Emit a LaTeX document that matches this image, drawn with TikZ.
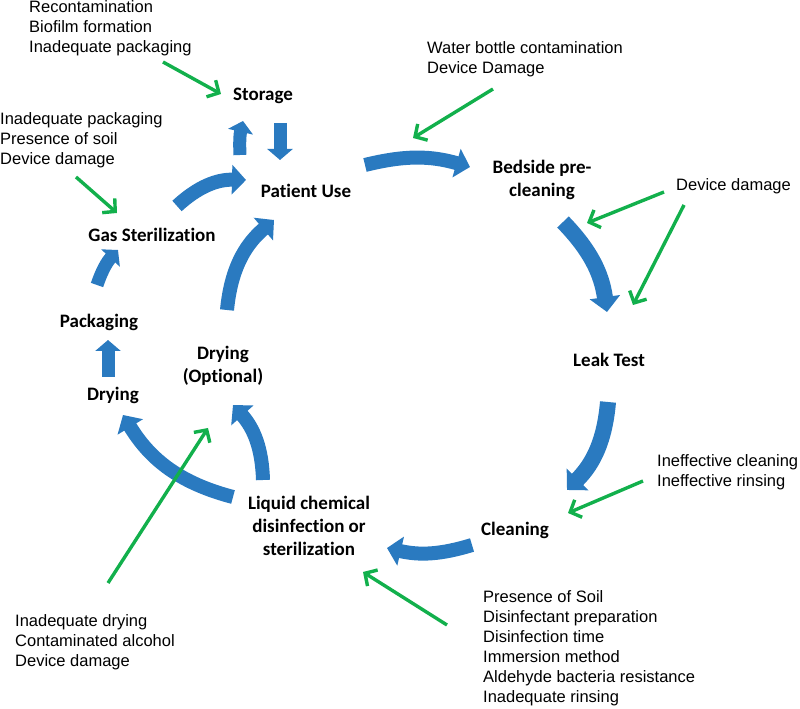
\documentclass[tikz,border=0pt]{standalone}
\usepackage{fontspec}
\setmainfont{Liberation Sans}
\newfontfamily\stagefamily[Ligatures=NoCommon]{Carlito}
\usetikzlibrary{arrows.meta}
\definecolor{flowblue}{RGB}{42,122,192}
\definecolor{riskgreen}{RGB}{18,176,76}
\begin{document}
\begin{tikzpicture}[x=1pt,y=1pt,
  stage/.style={font=\stagefamily\bfseries\fontsize{19}{23}\selectfont, align=center, inner sep=0pt},
  risk/.style={font=\fontsize{16.5}{20}\selectfont, align=left, anchor=west, inner sep=0pt},
  flow/.style={draw=flowblue, line width=14pt, -{Triangle[width=29pt,length=14pt]}},
  smallflow/.style={draw=flowblue, line width=13pt, -{Triangle[width=25pt,length=11pt]}},
  hazard/.style={draw=riskgreen, line width=3.4pt, -{Straight Barb[length=9pt,width=19pt]}}]
\useasboundingbox (0,0) rectangle (800,709);

% stages
\node[stage] (storage) at (263,613) {Storage};
\node[stage] (patient) at (306,518) {Patient Use};
\node[stage] (bedside) at (542,529.5) {Bedside pre-\\cleaning};
\node[stage] (leak) at (609,349) {Leak Test};
\node[stage] (cleaning) at (515,179) {Cleaning};
\node[stage] (liquid) at (309,183) {Liquid chemical\\disinfection or\\sterilization};
\node[stage] (dryopt) at (223,343) {Drying\\(Optional)};
\node[stage] (drying) at (113,314) {Drying};
\node[stage] (packaging) at (99,387) {Packaging};
\node[stage] (gas) at (152,474) {Gas Sterilization};

% risks
\node[risk] (r1) at (29,681) {Recontamination\\Biofilm formation\\Inadequate packaging};
\node[risk] (r2) at (0,569) {Inadequate packaging\\Presence of soil\\Device damage};
\node[risk] (r3) at (427,650) {Water bottle contamination\\Device Damage};
\node[risk] (r4) at (676,523) {Device damage};
\node[risk] (r5) at (657,237) {Ineffective cleaning\\Ineffective rinsing};
\node[risk] (r6) at (483,61) {Presence of Soil\\Disinfectant preparation\\Disinfection time\\Immersion method\\Aldehyde bacteria resistance\\Inadequate rinsing};
\node[risk] (r7) at (15,67) {Inadequate drying\\Contaminated alcohol\\Device damage};

% flow arrow endpoints
\coordinate (b1s) at (240,554); \coordinate (b1e) at (243,588);
\coordinate (b2s) at (280,586); \coordinate (b2e) at (280,549);
\coordinate (b3s) at (177,503); \coordinate (b3e) at (246,529);
\coordinate (b4s) at (365,544); \coordinate (b4e) at (470,542);
\coordinate (b5s) at (563,487); \coordinate (b5e) at (607,397);
\coordinate (b6s) at (608,307); \coordinate (b6e) at (567,219);
\coordinate (b7s) at (472,164); \coordinate (b7e) at (387,161);
\coordinate (b8s) at (233,212); \coordinate (b8e) at (123,294);
\coordinate (b9s) at (263,229); \coordinate (b9e) at (233,304);
\coordinate (b10s) at (227,399); \coordinate (b10e) at (274,489);
\coordinate (b11s) at (97,424); \coordinate (b11e) at (118,459);
\coordinate (b12s) at (108,332); \coordinate (b12e) at (108,369);

\draw[smallflow] (b1s) to[bend left=8] (b1e);
\draw[smallflow] (b2s) -- (b2e);
\draw[flow] (b3s) to[bend left=22] (b3e);
\draw[flow] (b4s) to[bend left=15] (b4e);
\draw[flow, line width=16pt, -{Triangle[width=30pt,length=15pt]}] (b5s) to[bend left=18] (b5e);
\draw[flow, line width=16pt, -{Triangle[width=30pt,length=15pt]}] (b6s) to[bend left=20] (b6e);
\draw[flow] (b7s) to[bend left=15] (b7e);
\draw[flow] (b8s) to[bend left=22] (b8e);
\draw[flow] (b9s) to[bend right=20] (b9e);
\draw[flow] (b10s) to[bend left=22] (b10e);
\draw[smallflow] (b11s) to[bend left=12] (b11e);
\draw[smallflow] (b12s) -- (b12e);

% hazard arrows
\coordinate (g1s) at (163,647); \coordinate (g1e) at (221,615);
\coordinate (g2s) at (76,532); \coordinate (g2e) at (117,496);
\coordinate (g3s) at (493,620); \coordinate (g3e) at (413,571);
\coordinate (g4s) at (664,517); \coordinate (g4e) at (587,486);
\coordinate (g5s) at (684,504); \coordinate (g5e) at (633,404);
\coordinate (g6s) at (643,228); \coordinate (g6e) at (568,196);
\coordinate (g7s) at (447,84); \coordinate (g7e) at (363,137);
\coordinate (g8s) at (108,126); \coordinate (g8e) at (208,281);
\foreach \g in {1,...,8} \draw[hazard] (g\g s) -- (g\g e);
\end{tikzpicture}
\end{document}
